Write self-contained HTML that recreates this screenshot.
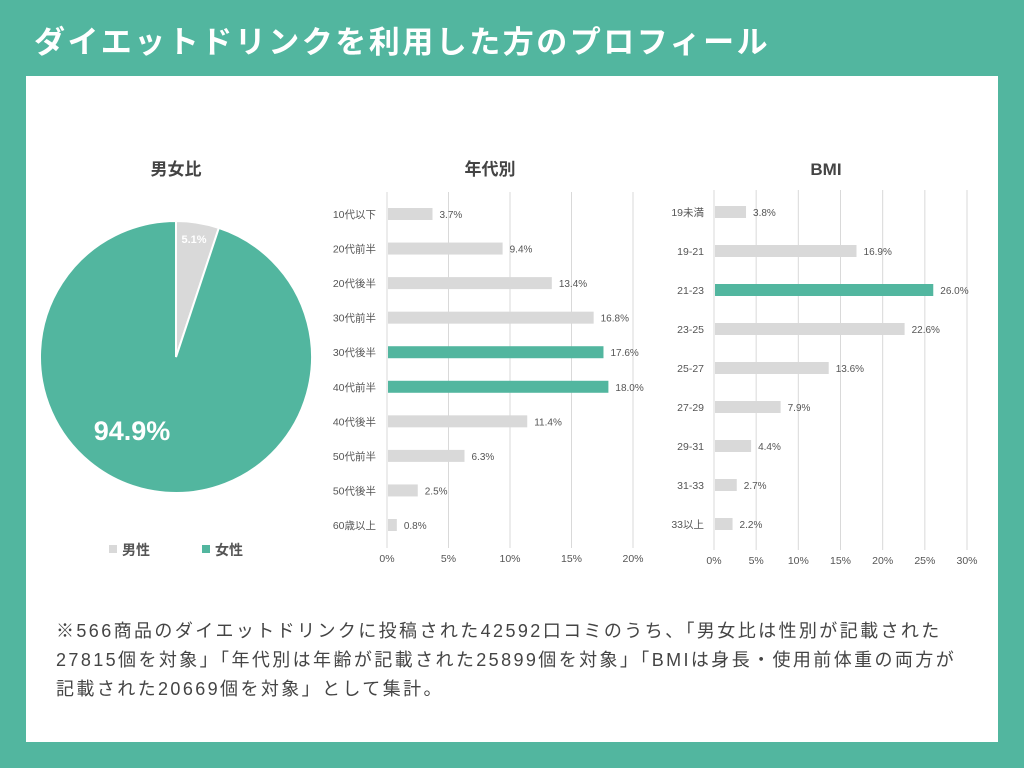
<!DOCTYPE html>
<html><head><meta charset="utf-8"><style>
body{margin:0;width:1024px;height:768px;background:#52b69f;font-family:"Liberation Sans","Noto Sans CJK JP",sans-serif;position:relative;overflow:hidden}
#title{position:absolute;left:34px;top:17px;color:#fff;font-size:31px;font-weight:bold;letter-spacing:2.5px;white-space:nowrap}
#panel{position:absolute;left:26px;top:76px;width:972px;height:666px;background:#fff}
#note{position:absolute;left:56px;top:617px;width:940px;font-size:18px;letter-spacing:2.4px;line-height:29px;color:#444;white-space:nowrap}
svg{position:absolute;left:0;top:0}
</style></head><body>
<div id="title">ダイエットドリンクを利用した方のプロフィール</div>
<div id="panel"></div>
<svg id="chart" width="1024" height="768"></svg>
<div id="note">※566商品のダイエットドリンクに投稿された42592口コミのうち、「男女比は性別が記載された<br>27815個を対象」「年代別は年齢が記載された25899個を対象」「BMIは身長・使用前体重の両方が<br>記載された20669個を対象」として集計。</div>
<script>
const genderLabels=["男性","女性"];
const genderValues=[5.1,94.9];
const ageCats=["10代以下","20代前半","20代後半","30代前半","30代後半","40代前半","40代後半","50代前半","50代後半","60歳以上"];
const ageValues=[3.7,9.4,13.4,16.8,17.6,18.0,11.4,6.3,2.5,0.8];
const ageHighlight=[0,0,0,0,1,1,0,0,0,0];
const ageTicks=[0,5,10,15,20];
const bmiCats=["19未満","19-21","21-23","23-25","25-27","27-29","29-31","31-33","33以上"];
const bmiValues=[3.8,16.9,26.0,22.6,13.6,7.9,4.4,2.7,2.2];
const bmiHighlight=[0,0,1,0,0,0,0,0,0];
const bmiTicks=[0,5,10,15,20,25,30];
const G="#52b69f",L="#d9d9d9",NS="http://www.w3.org/2000/svg";
const svg=document.getElementById('chart');
function el(t,a,txt){const e=document.createElementNS(NS,t);for(const k in a)e.setAttribute(k,a[k]);if(txt!=null)e.textContent=txt;svg.appendChild(e);return e;}
function txt(x,y,s,o){return el('text',Object.assign({x:x,y:y,'font-size':11,fill:'#555','font-family':'"Liberation Sans","Noto Sans CJK JP",sans-serif'},o||{}),s);}
let t;
t=txt(176,175,"男女比",{'font-size':17,'font-weight':'bold','text-anchor':'middle',fill:'#444'});

t=txt(490,175,"年代別",{'font-size':17,'font-weight':'bold','text-anchor':'middle',fill:'#444'});

t=txt(826,175,"BMI",{'font-size':17,'font-weight':'bold','text-anchor':'middle',fill:'#444'});

const cx=176,cy=357,r=136;let a0=-Math.PI/2;const tot=genderValues.reduce((a,b)=>a+b,0);
genderValues.forEach((v,i)=>{const a1=a0+v/tot*2*Math.PI;
 const x0=cx+r*Math.cos(a0),y0=cy+r*Math.sin(a0),x1=cx+r*Math.cos(a1),y1=cy+r*Math.sin(a1);
 const p=el('path',{d:`M${cx},${cy}L${x0},${y0}A${r},${r} 0 ${a1-a0>Math.PI?1:0} 1 ${x1},${y1}Z`,fill:i==0?L:G,stroke:'#fff','stroke-width':2});
 
 a0=a1;});
t=txt(194,243,genderValues[0]+"%",{'font-size':11,fill:'#fff','font-weight':'bold','text-anchor':'middle'});

t=txt(132,440,genderValues[1].toFixed(1)+"%",{'font-size':27,fill:'#fff','font-weight':'bold','text-anchor':'middle'});

genderLabels.forEach((g,i)=>{const x=109+93*i;
 const s=el('rect',{x:x,y:545,width:8,height:8,fill:i==0?L:G});
 
 const tt=txt(x+13,555,g,{'font-size':14,'font-weight':'bold',fill:'#555'});
 });
function bars(name,cats,vals,hl,ticks,x0,xmax,tmax,yFirst,yLast,tickY,labelX){
 const sx=v=>x0+v/tmax*(xmax-x0);const step=(yLast-yFirst)/(cats.length-1);
 ticks.forEach(tk=>{const l=el('line',{x1:sx(tk),x2:sx(tk),y1:yFirst-22,y2:tickY-14,stroke:'#d9d9d9','stroke-width':1});
  
  const tl=txt(sx(tk),tickY,tk+"%",{'text-anchor':'middle','font-size':10.5});
  });
 cats.forEach((c,i)=>{const y=yFirst+i*step;
  const cl=txt(labelX,y+4,c,{'text-anchor':'end','font-size':10.5});
  
  const b=el('rect',{x:x0+1,y:y-6,width:sx(vals[i])-x0-1,height:12,fill:hl[i]?G:L});
  
  const vl=txt(sx(vals[i])+7,y+4,vals[i].toFixed(1)+"%",{'font-size':10});
  });
}
bars('age',ageCats,ageValues,ageHighlight,ageTicks,387,633,20,214,525,562,376);
bars('bmi',bmiCats,bmiValues,bmiHighlight,bmiTicks,714,967,30,212,524,564,704);
</script>
</body></html>
